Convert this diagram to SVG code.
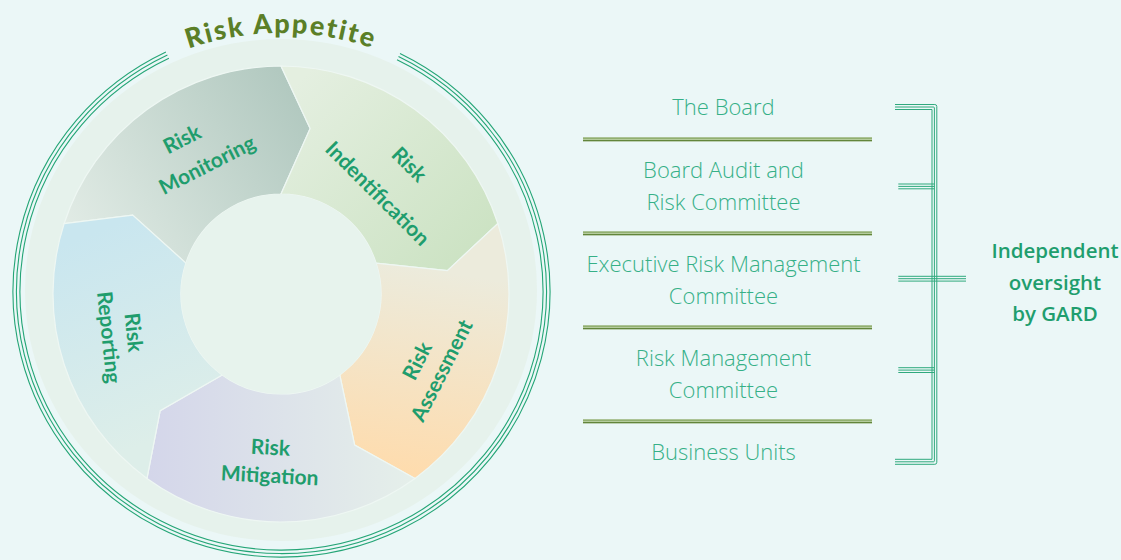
<svg xmlns="http://www.w3.org/2000/svg" width="1121" height="560" viewBox="0 0 1121 560">
<style>
.ring{fill:none;stroke:#24a576;stroke-width:1.1}
.seg{stroke:#eef7f3;stroke-width:1.2}
.lab{font-family:Lato,"Open Sans","Liberation Sans",sans-serif;font-weight:700;font-size:21px;fill:#1f9d6d;text-anchor:middle}
.lvl{font-family:"Open Sans","Liberation Sans",sans-serif;font-weight:300;font-size:22px;fill:#36b087;text-anchor:middle}
.gard{font-family:"Open Sans","Liberation Sans",sans-serif;font-weight:600;font-size:20.5px;fill:#1f9e6e;text-anchor:middle}
.title{font-family:Lato,"Liberation Sans",sans-serif;font-weight:900;font-size:27px;fill:#5b7f27;letter-spacing:2px}
.br{fill:none;stroke:#2fa97d;stroke-width:1}
</style>
<defs>
<linearGradient id="gMon" gradientUnits="userSpaceOnUse" x1="90" y1="260" x2="310" y2="120"><stop offset="0" stop-color="#e1ebe5"/><stop offset="1" stop-color="#b2c9c0"/></linearGradient>
<linearGradient id="gIde" gradientUnits="userSpaceOnUse" x1="300" y1="80" x2="480" y2="260"><stop offset="0" stop-color="#e4efe0"/><stop offset="1" stop-color="#cbe2c2"/></linearGradient>
<linearGradient id="gAss" gradientUnits="userSpaceOnUse" x1="430" y1="270" x2="400" y2="470"><stop offset="0" stop-color="#ecebdc"/><stop offset="1" stop-color="#fedcae"/></linearGradient>
<linearGradient id="gMit" gradientUnits="userSpaceOnUse" x1="150" y1="450" x2="410" y2="450"><stop offset="0" stop-color="#d4d6ea"/><stop offset="1" stop-color="#e5efea"/></linearGradient>
<linearGradient id="gRep" gradientUnits="userSpaceOnUse" x1="100" y1="230" x2="180" y2="430"><stop offset="0" stop-color="#c9e6ef"/><stop offset="1" stop-color="#ddeee9"/></linearGradient>
<path id="titleArc" d="M 1,313 A 280 280 0 0 1 561,313"/>
</defs>
<rect x="0" y="0" width="1121" height="560" fill="#ebf7f7"/>
<g id="wheel">
<ellipse cx="281" cy="290" rx="256" ry="251" fill="#e6f2ec"/>
<g id="ring">
<path class="ring" d="M 400.0,53.4 A 268.5 265.5 0 1 1 165.9,52.0"/>
<path class="ring" d="M 398.5,56.5 A 265 262 0 1 1 167.4,55.1"/>
<path class="ring" d="M 397.0,59.7 A 261.5 258.5 0 1 1 168.9,58.3"/>
</g>
<g id="seg-monitoring">
<path class="seg" fill="url(#gMon)" d="M 64.15,223.55 A 228 228 0 0 1 281,66 L 310.16,128.55 L 281,194 A 100 100 0 0 0 185.89,263.1 L 132.67,215.12 Z"/>
<text class="lab" transform="translate(185.4,145.7) rotate(-27)">Risk</text>
<text class="lab" transform="translate(210.4,171.4) rotate(-27)">Monitoring</text>
</g>
<g id="seg-identification">
<path class="seg" fill="url(#gIde)" d="M 281,66 A 228 228 0 0 1 497.85,223.55 L 447.37,270.61 L 376.11,263.1 A 100 100 0 0 0 281,194 L 310.16,128.55 Z"/>
<text class="lab" transform="translate(404.0,169.5) rotate(45)">Risk</text>
<text class="lab" transform="translate(372.4,198.6) rotate(45)">Indentification</text>
</g>
<g id="seg-assessment">
<path class="seg" fill="url(#gAss)" d="M 497.85,223.55 A 228 228 0 0 1 415.02,478.45 L 354.65,445 L 339.78,374.9 A 100 100 0 0 0 376.11,263.1 L 447.37,270.61 Z"/>
<text class="lab" transform="translate(423.7,364.2) rotate(-63)">Risk</text>
<text class="lab" transform="translate(448.1,373.9) rotate(-63)">Assessment</text>
</g>
<g id="seg-mitigation">
<path class="seg" fill="url(#gMit)" d="M 415.02,478.45 A 228 228 0 0 1 146.98,478.45 L 160.16,410.71 L 222.22,374.9 A 100 100 0 0 0 339.78,374.9 L 354.65,445 Z"/>
<text class="lab" transform="translate(270.1,454.7) rotate(3)">Risk</text>
<text class="lab" transform="translate(269.3,482.8) rotate(3)">Mitigation</text>
</g>
<g id="seg-reporting">
<path class="seg" fill="url(#gRep)" d="M 146.98,478.45 A 228 228 0 0 1 64.15,223.55 L 132.67,215.12 L 185.89,263.1 A 100 100 0 0 0 222.22,374.9 L 160.16,410.71 Z"/>
<text class="lab" transform="translate(126.5,333.3) rotate(84)">Risk</text>
<text class="lab" transform="translate(101.7,338.1) rotate(84)">Reporting</text>
</g>
<circle id="hub" cx="281" cy="294" r="100" fill="#e7f3ed"/>
</g>
<g id="title">
<text class="title"><textPath href="#titleArc" startOffset="50%" text-anchor="middle">Risk Appetite</textPath></text>
</g>
<g id="levels">
<g id="sep" fill="none">
<rect x="583" y="137.5" width="289" height="3.8" fill="#b5cc9e"/>
<rect x="583" y="231.5" width="289" height="3.8" fill="#b5cc9e"/>
<rect x="583" y="325.5" width="289" height="3.8" fill="#b5cc9e"/>
<rect x="583" y="419.5" width="289" height="3.8" fill="#b5cc9e"/>
<path stroke="#86a663" stroke-width="1.2" d="M583 138.1H872M583 232.1H872M583 326.1H872M583 420.1H872"/>
<path stroke="#62853b" stroke-width="1.2" d="M583 140.7H872M583 234.7H872M583 328.7H872M583 422.7H872"/>
</g>
<g id="lvl-board"><text class="lvl" x="723.5" y="115">The Board</text></g>
<g id="lvl-barc"><text class="lvl" x="723.5" y="178">Board Audit and</text><text class="lvl" x="723.5" y="209.5">Risk Committee</text></g>
<g id="lvl-ermc"><text class="lvl" x="723.5" y="272">Executive Risk Management</text><text class="lvl" x="723.5" y="304">Committee</text></g>
<g id="lvl-rmc"><text class="lvl" x="723.5" y="366">Risk Management</text><text class="lvl" x="723.5" y="397.5">Committee</text></g>
<g id="lvl-bu"><text class="lvl" x="723.5" y="460">Business Units</text></g>
</g>
<g id="connectors">
<path class="br" d="M 895,104.5 H 934.8 Q 936.8,104.5 936.8,106.5 V 462.3 Q 936.8,464.3 934.8,464.3 H 895"/>
<path class="br" d="M 895,107 H 933.4 Q 934.4,107 934.4,108 V 460.8 Q 934.4,461.8 933.4,461.8 H 895"/>
<path class="br" d="M 895,109.5 H 932 V 459.3 H 895"/>
<path class="br" d="M898.3 184H934.4M898.3 186.4H934.4M898.3 188.8H934.4"/>
<path class="br" d="M898.3 276.3H966M898.3 278.7H966M898.3 281.1H966"/>
<path class="br" d="M898.3 367.7H934.4M898.3 370.1H934.4M898.3 372.5H934.4"/>
</g>
<g id="gard">
<text class="gard" x="1055" y="258">Independent</text>
<text class="gard" x="1055" y="290">oversight</text>
<text class="gard" x="1055" y="321">by GARD</text>
</g>
</svg>
